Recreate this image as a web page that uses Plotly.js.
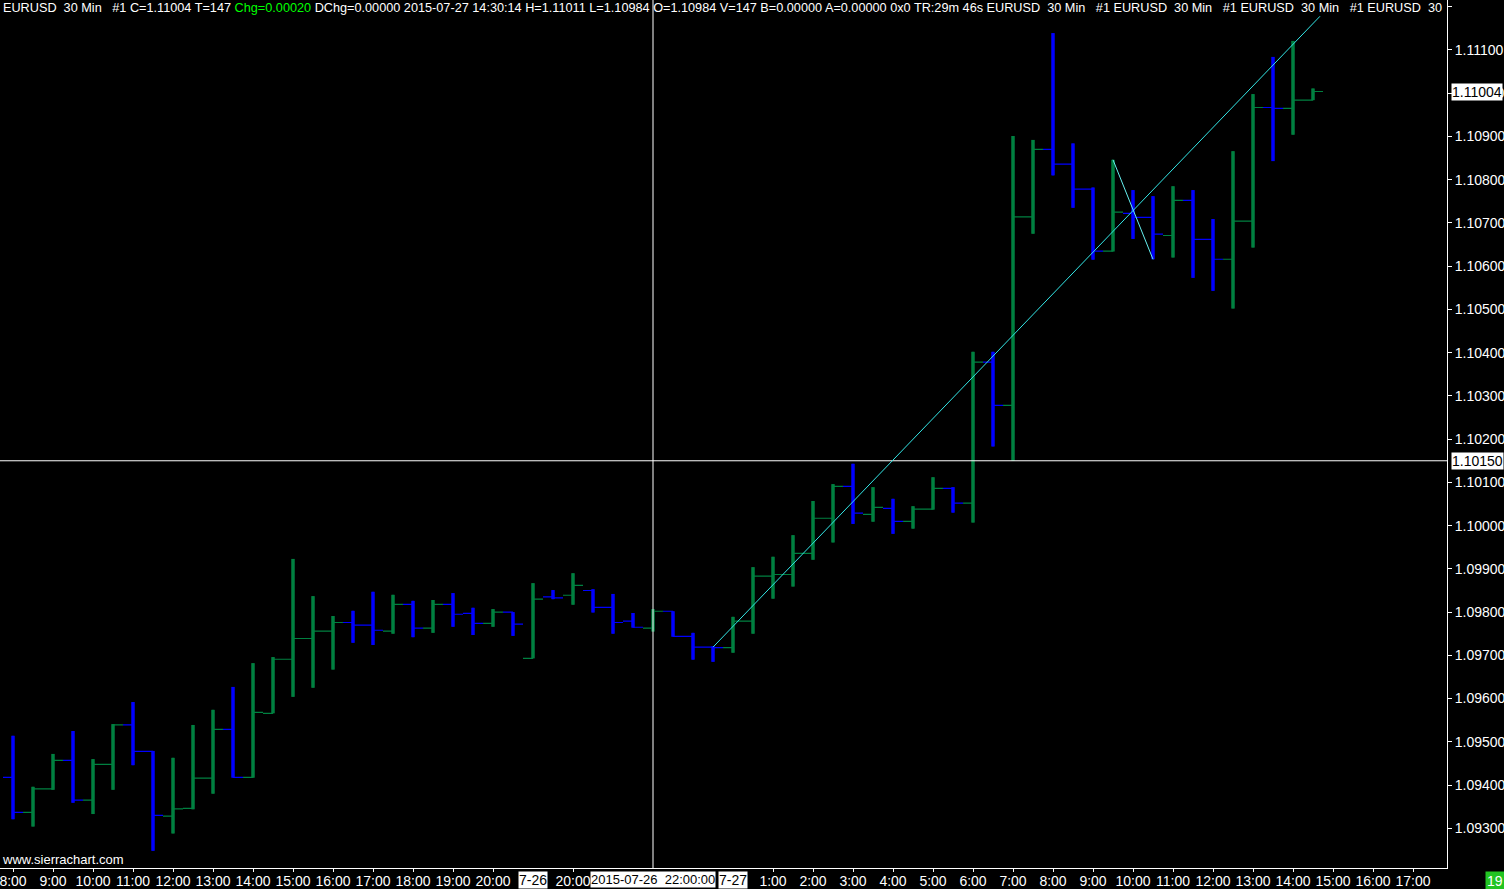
<!DOCTYPE html>
<html>
<head>
<meta charset="utf-8">
<script src="https://cdn.plot.ly/plotly-3.0.1.min.js"></script>
<style>
html,body{margin:0;padding:0;background:#000;}
#chart{width:1504px;height:889px;}
</style>
</head>
<body>
<div id="chart"></div>
<script>
// 30-minute bars, EURUSD (7-24 session, then 7-26 evening to 7-27)
var times = [
 '07-24 08:00','07-24 08:30','07-24 09:00','07-24 09:30','07-24 10:00','07-24 10:30','07-24 11:00','07-24 11:30',
 '07-24 12:00','07-24 12:30','07-24 13:00','07-24 13:30','07-24 14:00','07-24 14:30','07-24 15:00','07-24 15:30',
 '07-24 16:00','07-24 16:30','07-24 17:00','07-24 17:30','07-24 18:00','07-24 18:30','07-24 19:00','07-24 19:30',
 '07-24 20:00','07-24 20:30',
 '07-26 19:00','07-26 19:30','07-26 20:00','07-26 20:30','07-26 21:00','07-26 21:30','07-26 22:00','07-26 22:30',
 '07-26 23:00','07-26 23:30',
 '07-27 00:00','07-27 00:30','07-27 01:00','07-27 01:30','07-27 02:00','07-27 02:30','07-27 03:00','07-27 03:30',
 '07-27 04:00','07-27 04:30','07-27 05:00','07-27 05:30','07-27 06:00','07-27 06:30','07-27 07:00','07-27 07:30',
 '07-27 08:00','07-27 08:30','07-27 09:00','07-27 09:30','07-27 10:00','07-27 10:30','07-27 11:00','07-27 11:30',
 '07-27 12:00','07-27 12:30','07-27 13:00','07-27 13:30','07-27 14:00','07-27 14:30'
];
var openP = [
 1.09418,1.09337,1.09391,1.09457,1.09365,1.09448,1.09539,1.09478,1.09328,1.09346,
 1.09416,1.09529,1.09418,1.09566,1.09691,1.09739,1.09756,1.09776,1.09770,1.09756,
 1.09818,1.09763,1.09818,1.09797,1.09774,1.09800,1.09693,1.09835,1.09839,1.09850,
 1.09811,1.09779,1.09763,1.09802,1.09744,1.09719,1.09718,1.09779,1.09883,1.09887,
 1.09936,1.10017,1.10091,1.10026,1.10040,1.10010,1.10038,1.10086,1.10052,1.10378,
 1.10278,1.10714,1.10870,1.10836,1.10778,1.10635,1.10722,1.10713,1.10671,1.10752,
 1.10662,1.10616,1.10704,1.10967,1.10965,1.10984
];
var highP = [
 1.09514,1.09396,1.09472,1.09525,1.09460,1.09541,1.09592,1.09479,1.09463,1.09539,
 1.09574,1.09627,1.09682,1.09696,1.09923,1.09837,1.09791,1.09803,1.09847,1.09840,
 1.09826,1.09828,1.09844,1.09810,1.09807,1.09800,1.09867,1.09851,1.09890,1.09853,
 1.09842,1.09798,1.09807,1.09802,1.09752,1.09721,1.09789,1.09904,1.09928,1.09978,
 1.10057,1.10096,1.10143,1.10089,1.10062,1.10045,1.10112,1.10089,1.10402,1.10402,
 1.10901,1.10892,1.11139,1.10884,1.10782,1.10846,1.10776,1.10762,1.10785,1.10776,
 1.10709,1.10866,1.10998,1.11084,1.11121,1.11011
];
var lowP = [
 1.09321,1.09304,1.09389,1.09359,1.09333,1.09389,1.09446,1.09248,1.09288,1.09344,
 1.09380,1.09417,1.09417,1.09566,1.09604,1.09625,1.09667,1.09729,1.09724,1.09750,
 1.09742,1.09752,1.09766,1.09747,1.09766,1.09745,1.09693,1.09830,1.09817,1.09799,
 1.09750,1.09764,1.09755,1.09743,1.09690,1.09685,1.09706,1.09750,1.09831,1.09859,
 1.09921,1.09961,1.10004,1.10009,1.09981,1.09993,1.10037,1.10030,1.10007,1.10183,
 1.10150,1.10675,1.10810,1.10735,1.10615,1.10634,1.10663,1.10616,1.10620,1.10573,
 1.10543,1.10502,1.10643,1.10843,1.10904,1.10984
];
var closeP = [
 1.09337,1.09391,1.09457,1.09365,1.09448,1.09539,1.09478,1.09330,1.09345,1.09416,
 1.09529,1.09418,1.09568,1.09691,1.09739,1.09756,1.09776,1.09770,1.09758,1.09818,
 1.09763,1.09818,1.09795,1.09774,1.09800,1.09772,1.09830,1.09833,1.09862,1.09811,
 1.09776,1.09765,1.09802,1.09744,1.09719,1.09718,1.09779,1.09883,1.09887,1.09936,
 1.10017,1.10091,1.10029,1.10042,1.10010,1.10038,1.10086,1.10052,1.10378,1.10278,
 1.10714,1.10870,1.10836,1.10778,1.10635,1.10725,1.10713,1.10674,1.10752,1.10662,
 1.10616,1.10704,1.10967,1.10965,1.10984,1.11004
];
// x-axis labels (bar slot index -> label)
var tickIndex = [0,2,4,6,8,10,12,14,16,18,20,22,24,28,38,40,42,44,46,48,50,52,54,56,58,60,62,64,66,68,70];
var tickText = ['8:00','9:00','10:00','11:00','12:00','13:00','14:00','15:00','16:00','17:00','18:00','19:00','20:00','20:00',
 '1:00','2:00','3:00','4:00','5:00','6:00','7:00','8:00','9:00','10:00','11:00','12:00','13:00','14:00','15:00','16:00','17:00'];
var dateMarks = [{i:26, t:'7-26'}, {i:36, t:'7-27'}];
var cursorIndex = 32, cursorLabel = '2015-07-26\u00A0 22:00:00';
var cursorPrice = 1.10150;
var lastPrice = 1.11004;
// drawn trend lines: [barIndex, price]
var trend1 = [[35, 1.09719], [65.35, 1.11178]];
var trend2 = [[55, 1.10846], [57, 1.10616]];

var xs = times.map(function(t, i){ return i; });
var UP = '#008040', DN = '#0000FF';
var NARROW = 'Liberation Sans Narrow, Arial Narrow, Liberation Sans, Arial, sans-serif';
var SANS = 'Liberation Sans, Arial, sans-serif';

var traces = [
 {type:'ohlc', x:xs, open:openP, high:highP, low:lowP, close:closeP, tickwidth:0.5,
  increasing:{line:{color:UP, width:1.2}}, decreasing:{line:{color:DN, width:1.2}}, hoverinfo:'skip'},
 {type:'ohlc', x:xs, open:openP, high:highP, low:lowP, close:closeP, tickwidth:0,
  increasing:{line:{color:UP, width:3.5}}, decreasing:{line:{color:DN, width:3.5}}, hoverinfo:'skip'}
];

var sp = '\u00A0';
var header = 'EURUSD' + sp+sp + '30 Min' + sp+sp+sp + '#1 C=1.11004 T=147 ' +
 '<span style="color:#00ff00">Chg=0.00020</span>' +
 ' DChg=0.00000 2015-07-27 14:30:14 H=1.11011 L=1.10984 O=1.10984 V=147 B=0.00000 A=0.00000 0x0 TR:29m 46s ' +
 'EURUSD'+sp+sp+'30 Min'+sp+sp+sp+'#1 EURUSD'+sp+sp+'30 Min'+sp+sp+sp+'#1 EURUSD'+sp+sp+'30 Min'+sp+sp+sp+'#1 EURUSD'+sp+sp+'30';

var annotations = [
 {xref:'paper', yref:'paper', x:0, y:1, xanchor:'left', yanchor:'top', showarrow:false, xshift:1, yshift:1,
  text:header, font:{family:SANS, size:12.7, color:'#ffffff'}},
 {xref:'paper', yref:'paper', x:0, y:0, xanchor:'left', yanchor:'bottom', showarrow:false, yshift:-1,
  text:'www.sierrachart.com', font:{family:SANS, size:13, color:'#ffffff'}},
 {xref:'paper', yref:'y', x:1, y:lastPrice, xanchor:'left', showarrow:false, xshift:4,
  text:lastPrice.toFixed(5), bgcolor:'#ffffff', borderpad:0, font:{family:NARROW, size:14, color:'#000000'}},
 {xref:'paper', yref:'y', x:1, y:cursorPrice, xanchor:'left', showarrow:false, xshift:4,
  text:cursorPrice.toFixed(5), bgcolor:'#ffffff', borderpad:0, font:{family:NARROW, size:14, color:'#000000'}},
 {xref:'x', yref:'paper', x:cursorIndex, y:0, yanchor:'top', showarrow:false, yshift:-3,
  text:cursorLabel, bgcolor:'#ffffff', borderpad:0, font:{family:NARROW, size:13, color:'#000000'}},
 {xref:'paper', yref:'paper', x:1, y:0, xanchor:'left', yanchor:'top', showarrow:false, xshift:38, yshift:-3,
  text:'19', bgcolor:'#22c422', borderpad:1, font:{family:NARROW, size:14, color:'#ffffff'}}
];
dateMarks.forEach(function(d){
 annotations.push({xref:'x', yref:'paper', x:d.i, y:0, yanchor:'top', showarrow:false, yshift:-3,
  text:d.t, bgcolor:'#ffffff', borderpad:0, font:{family:NARROW, size:14, color:'#000000'}});
});

var shapes = [
 {type:'line', xref:'x', yref:'paper', x0:cursorIndex, x1:cursorIndex, y0:0, y1:1, line:{color:'#ffffff', width:1}},
 {type:'line', xref:'paper', yref:'y', x0:0, x1:1, y0:cursorPrice, y1:cursorPrice, line:{color:'#ffffff', width:1}},
 {type:'line', xref:'x', yref:'y', x0:trend1[0][0], y0:trend1[0][1], x1:trend1[1][0], y1:trend1[1][1], line:{color:'#33e6e6', width:1}},
 {type:'line', xref:'x', yref:'y', x0:trend2[0][0], y0:trend2[0][1], x1:trend2[1][0], y1:trend2[1][1], line:{color:'#66f0f0', width:1}}
];

var layout = {
 width:1504, height:889,
 paper_bgcolor:'#000000', plot_bgcolor:'#000000',
 margin:{l:0, r:57, t:0, b:21, pad:0},
 showlegend:false,
 xaxis:{range:[-0.65, 71.7], showgrid:false, zeroline:false, showline:true, linecolor:'#ffffff', linewidth:1,
  ticks:'outside', ticklen:3, tickcolor:'#ffffff', tickvals:tickIndex, ticktext:tickText,
  ticklabeloverflow:'allow', ticklabelstandoff:-3,
  tickfont:{family:NARROW, size:14, color:'#ffffff'}, rangeslider:{visible:false}, fixedrange:true},
 yaxis:{side:'right', range:[1.092082, 1.112156], showgrid:false, zeroline:false, showline:true,
  linecolor:'#ffffff', linewidth:1, ticks:'outside', ticklen:4, tickcolor:'#ffffff',
  tick0:1.093, dtick:0.001, tickformat:'.5f', tickfont:{family:NARROW, size:14, color:'#ffffff'}, fixedrange:true},
 shapes:shapes,
 annotations:annotations
};

Plotly.newPlot('chart', traces, layout, {displayModeBar:false, staticPlot:true});
</script>
</body>
</html>
